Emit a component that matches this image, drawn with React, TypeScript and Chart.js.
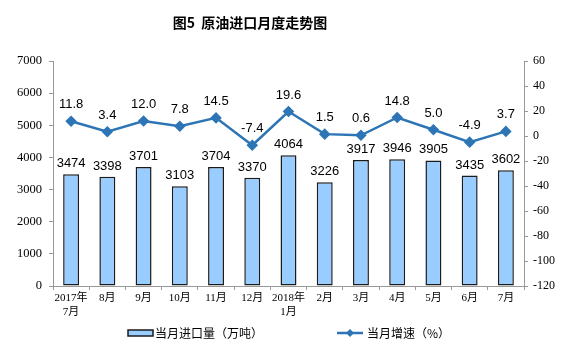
import React, { useEffect, useRef } from "react";
import { Chart, registerables } from "chart.js";

Chart.register(...registerables);

const categories: string[][] = [
  ["2017年", "7月"], ["8月"], ["9月"], ["10月"], ["11月"], ["12月"],
  ["2018年", "1月"], ["2月"], ["3月"], ["4月"], ["5月"], ["6月"], ["7月"],
];
const importVolume: number[] = [3474, 3398, 3701, 3103, 3704, 3370, 4064, 3226, 3917, 3946, 3905, 3435, 3602];
const growthRate: number[] = [11.8, 3.4, 12.0, 7.8, 14.5, -7.4, 19.6, 1.5, 0.6, 14.8, 5.0, -4.9, 3.7];
const titleText = "图5  原油进口月度走势图";
const barLegend = "当月进口量（万吨）";
const lineLegend = "当月增速（%）";

const BAR_FILL = "#99CCFF";
const BAR_BORDER = "#1b1b1b";
const LINE_COLOR = "#2E75B6";
const SANS = '"Liberation Sans", Arial, "Noto Sans CJK SC", sans-serif';
const SERIF = '"Liberation Serif", "Times New Roman", "Noto Sans CJK SC", serif';
const CJK = '"Noto Sans CJK SC", "Liberation Sans", sans-serif';

const overlayPlugin = {
  id: "overlay",
  afterDatasetsDraw(chart: any) {
    const ctx = chart.ctx as CanvasRenderingContext2D;
    ctx.save();
    ctx.fillStyle = "#000";
    ctx.font = `13px ${SANS}`;
    ctx.textAlign = "center";
    ctx.textBaseline = "alphabetic";
    const barMeta = chart.getDatasetMeta(0);
    barMeta.data.forEach((el: any, i: number) => {
      ctx.fillText(String(importVolume[i]), el.x, el.y - 7);
    });
    const lineMeta = chart.getDatasetMeta(1);
    lineMeta.data.forEach((el: any, i: number) => {
      ctx.fillText(growthRate[i].toFixed(1), el.x, el.y - 13);
    });
    ctx.restore();
  },
  afterDraw(chart: any) {
    const ctx = chart.ctx as CanvasRenderingContext2D;
    ctx.save();
    ctx.fillStyle = "#000";
    ctx.font = `bold 14px ${CJK}`;
    ctx.textAlign = "center";
    ctx.textBaseline = "middle";
    ctx.fillText(titleText, 250, 23);
    const ly = 333;
    ctx.fillStyle = BAR_FILL;
    ctx.fillRect(128, ly - 3, 25, 6);
    ctx.strokeStyle = BAR_BORDER;
    ctx.lineWidth = 1.5;
    ctx.strokeRect(128, ly - 3, 25, 6);
    ctx.font = `12px ${CJK}`;
    ctx.textAlign = "left";
    ctx.fillStyle = "#000";
    ctx.fillText(barLegend, 155, ly);
    ctx.strokeStyle = LINE_COLOR;
    ctx.lineWidth = 2.5;
    ctx.beginPath();
    ctx.moveTo(337, ly);
    ctx.lineTo(363, ly);
    ctx.stroke();
    ctx.fillStyle = LINE_COLOR;
    ctx.beginPath();
    ctx.moveTo(350, ly - 4);
    ctx.lineTo(354, ly);
    ctx.lineTo(350, ly + 4);
    ctx.lineTo(346, ly);
    ctx.closePath();
    ctx.fill();
    ctx.fillStyle = "#000";
    ctx.fillText(lineLegend, 367, ly);
    ctx.restore();
  },
};

export default function App() {
  const canvasRef = useRef<HTMLCanvasElement | null>(null);

  useEffect(() => {
    if (!canvasRef.current) return;
    const chart = new Chart(canvasRef.current, {
      type: "bar",
      data: {
        labels: categories,
        datasets: [
          {
            type: "bar",
            label: barLegend,
            data: importVolume,
            backgroundColor: BAR_FILL,
            borderColor: BAR_BORDER,
            borderWidth: 1.5,
            borderSkipped: false,
            categoryPercentage: 1,
            barPercentage: 0.44,
            yAxisID: "y",
            order: 2,
          },
          {
            type: "line",
            label: lineLegend,
            data: growthRate,
            borderColor: LINE_COLOR,
            backgroundColor: LINE_COLOR,
            borderWidth: 2.5,
            pointStyle: "rectRot",
            pointRadius: 4,
            pointBackgroundColor: LINE_COLOR,
            pointBorderColor: LINE_COLOR,
            tension: 0,
            yAxisID: "y1",
            order: 1,
          },
        ],
      },
      options: {
        responsive: false,
        animation: false,
        layout: { padding: { top: 61, bottom: 35, left: 0, right: 0 } },
        plugins: {
          legend: { display: false },
          title: { display: false },
          tooltip: { enabled: false },
        },
        scales: {
          x: {
            offset: true,
            grid: { display: true, drawOnChartArea: false, drawTicks: true, tickLength: 4, offset: true, color: "#999" },
            border: { color: "#999", width: 1 },
            ticks: { color: "#000", font: { size: 11, family: SERIF }, padding: 2, maxRotation: 0, autoSkip: false },
            afterFit(scale: any) { scale.height = 30; },
          },
          y: {
            position: "left",
            min: 0,
            max: 7000,
            grid: { drawOnChartArea: false, drawTicks: true, tickLength: 4, color: "#999" },
            border: { color: "#999", width: 1 },
            ticks: { stepSize: 1000, color: "#000", font: { size: 12.5, family: SERIF }, padding: 7, callback: (v: any) => String(v) },
            afterFit(scale: any) { scale.width = 53; },
          },
          y1: {
            position: "right",
            min: -120,
            max: 60,
            grid: { drawOnChartArea: false, drawTicks: true, tickLength: 4, color: "#999" },
            border: { color: "#999", width: 1 },
            ticks: { stepSize: 20, color: "#000", font: { size: 12, family: SERIF }, padding: 5, callback: (v: any) => String(v) },
            afterFit(scale: any) { scale.width = 44; },
          },
        },
      } as any,
      plugins: [overlayPlugin],
    });
    return () => chart.destroy();
  }, []);

  return (
    <div style={{ position: "fixed", left: 0, top: 0, width: 568, height: 351, background: "#fff" }}>
      <canvas ref={canvasRef} width={568} height={351} style={{ width: 568, height: 351, display: "block" }} />
    </div>
  );
}
